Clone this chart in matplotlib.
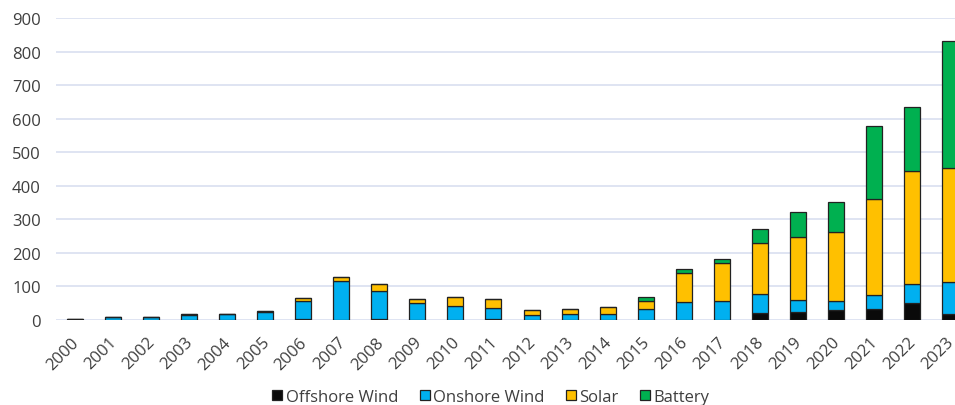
import matplotlib
matplotlib.use("Agg")
import matplotlib.pyplot as plt
from matplotlib.patches import Patch
import matplotlib.transforms as mtransforms
import numpy as np

years = [str(y) for y in range(2000, 2024)]
offshore = [0, 0, 0, 1, 0, 1, 2, 0, 2, 1, 0, 2, 1, 1, 1, 0, 0, 1, 20, 23, 30, 33, 50, 17]
onshore = [3, 10, 10, 15, 18, 24, 55, 117, 84, 51, 42, 35, 15, 18, 16, 33, 53, 56, 57, 37, 27, 42, 57, 97]
solar = [0, 0, 0, 2, 0, 2, 8, 10, 20, 10, 27, 26, 13, 14, 22, 24, 86, 114, 152, 187, 206, 286, 338, 338]
battery = [0, 0, 0, 0, 0, 0, 0, 0, 0, 0, 0, 0, 0, 0, 0, 12, 14, 12, 41, 75, 89, 216, 190, 380]

series = [("Offshore Wind", offshore, "#0a0a0a"),
          ("Onshore Wind", onshore, "#00b0f0"),
          ("Solar", solar, "#ffc000"),
          ("Battery", battery, "#00b050")]

plt.rcParams['font.family'] = ['Open Sans', 'DejaVu Sans']
txt_col = "#3f3f3f"

fig = plt.figure(figsize=(9.55, 4.06), dpi=100)
W, H = 955, 406
left, right, top, bottom = 56, 969, 19, 321
ax = fig.add_axes([left / W, (H - bottom) / H, (right - left) / W, (bottom - top) / H])

x = np.arange(len(years))
base = np.zeros(len(years))
for name, vals, col in series:
    v = np.array(vals, dtype=float)
    ax.bar(x, v, bottom=base, width=0.42, color=col, edgecolor="#222222", linewidth=0.9, label=name, zorder=3)
    base += v

ax.set_xlim(-0.5, len(years) - 0.5)
ax.set_ylim(0, 900)
ax.set_yticks(np.arange(0, 901, 100))
ax.yaxis.grid(True, color="#d9dff0", linewidth=1.2, zorder=0)
ax.set_axisbelow(True)
for s in ax.spines.values():
    s.set_visible(False)
ax.tick_params(axis='both', length=0, colors=txt_col, labelsize=12)
ax.tick_params(axis='y', pad=11)
ax.set_xticks(x)
ax.set_xticklabels(years, rotation=45, ha='right', va='top', rotation_mode='anchor')
ax.tick_params(axis='x', pad=10)
offset = mtransforms.ScaledTranslation(-4 / 100, 0, fig.dpi_scale_trans)
for lab in ax.get_xticklabels():
    lab.set_transform(lab.get_transform() + offset)

handles = [Patch(facecolor=c, edgecolor="#222222", linewidth=0.9, label=n) for n, _, c in series]
fig.legend(handles=handles, loc='center', bbox_to_anchor=(491 / W, 1 - 398 / H), ncol=4,
           frameon=False, fontsize=12, handlelength=0.6, handleheight=0.6, handletextpad=0.2,
           columnspacing=1.3, labelcolor=txt_col)

fig.savefig("out.png", dpi=100)
